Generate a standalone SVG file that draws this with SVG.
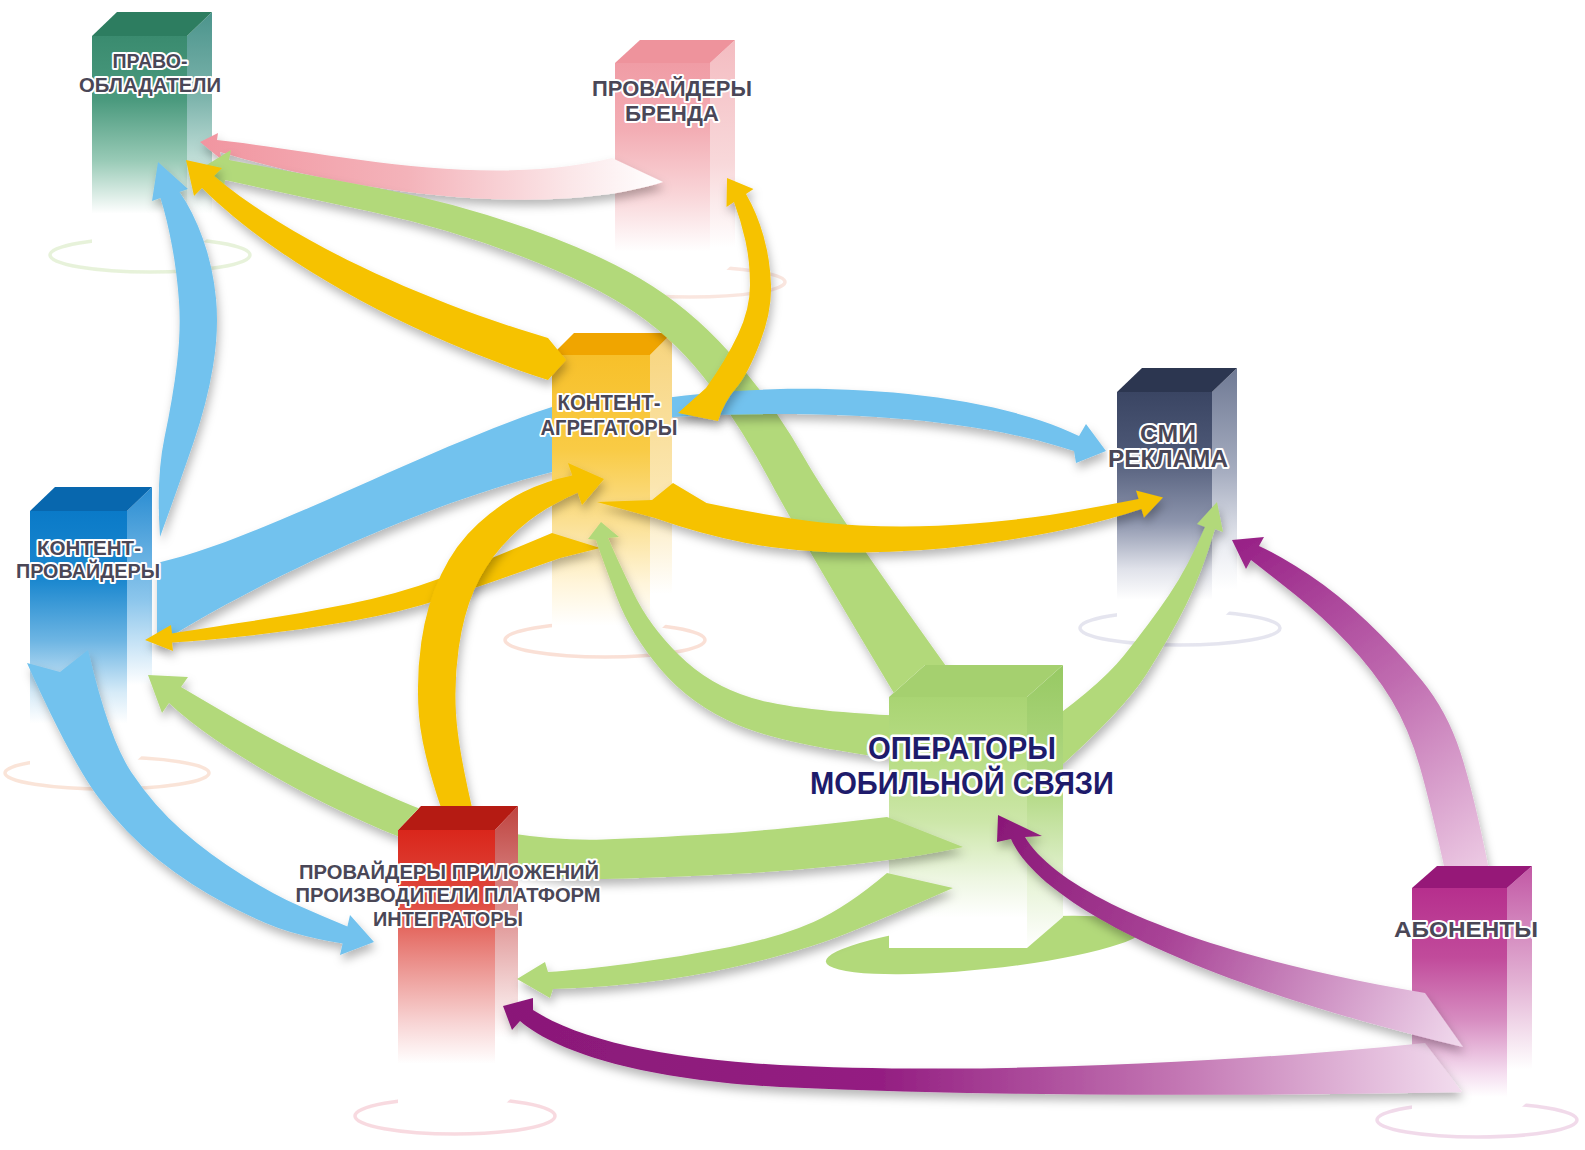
<svg xmlns="http://www.w3.org/2000/svg" width="1585" height="1150" viewBox="0 0 1585 1150">
<defs>
<style>
.lb{font-family:"Liberation Sans Narrow","Liberation Sans",Arial,sans-serif;font-weight:700;fill:#4a4757;stroke:#ffffff;stroke-width:4px;stroke-linejoin:round;paint-order:stroke;text-anchor:middle;font-size:21px}
.lbo{fill:#1e1b6b;font-size:31px;stroke-width:5px}
.ring{fill:none;stroke-width:3.5;opacity:.55}
.arr{filter:url(#sh)}
.g{fill:#b2d97a}
.y{fill:#f6c200}
.b{fill:#72c2ee}
</style>
<filter id="sh" x="-20%" y="-20%" width="140%" height="150%"><feDropShadow dx="2" dy="6" stdDeviation="5" flood-color="#000" flood-opacity="0.28"/></filter>
<linearGradient id="poF" x1="0" y1="0" x2="0" y2="1"><stop offset="0" stop-color="#3a8b6f"/><stop offset=".29" stop-color="#4b9a7e"/><stop offset=".56" stop-color="#98cab6"/><stop offset=".8" stop-color="#fff"/><stop offset="1" stop-color="#fff"/></linearGradient>
<linearGradient id="poS" x1="0" y1="0" x2="0" y2="1"><stop offset="0" stop-color="#4b948c"/><stop offset=".35" stop-color="#7db4ac"/><stop offset=".7" stop-color="#dcefe9"/><stop offset=".82" stop-color="#fff"/></linearGradient>
<linearGradient id="pbF" x1="0" y1="0" x2="0" y2="1"><stop offset="0" stop-color="#f09ca5"/><stop offset=".3" stop-color="#f3adb4"/><stop offset=".6" stop-color="#f9d6d9"/><stop offset=".85" stop-color="#fff"/></linearGradient>
<linearGradient id="pbS" x1="0" y1="0" x2="0" y2="1"><stop offset="0" stop-color="#f4bcc1"/><stop offset=".5" stop-color="#f8d8da"/><stop offset=".85" stop-color="#fff"/></linearGradient>
<linearGradient id="kaF" x1="0" y1="0" x2="0" y2="1"><stop offset="0" stop-color="#f7c02a"/><stop offset=".33" stop-color="#f9cb45"/><stop offset=".6" stop-color="#fbe197"/><stop offset=".8" stop-color="#fff5da"/><stop offset=".95" stop-color="#fff"/></linearGradient>
<linearGradient id="kaS" x1="0" y1="0" x2="0" y2="1"><stop offset="0" stop-color="#f7d47c"/><stop offset=".5" stop-color="#fbe6b0"/><stop offset=".85" stop-color="#fff"/></linearGradient>
<linearGradient id="smF" x1="0" y1="0" x2="0" y2="1"><stop offset="0" stop-color="#3a4563"/><stop offset=".25" stop-color="#4c5775"/><stop offset=".55" stop-color="#8d95ad"/><stop offset=".75" stop-color="#e0e2ea"/><stop offset=".88" stop-color="#fff"/></linearGradient>
<linearGradient id="smS" x1="0" y1="0" x2="0" y2="1"><stop offset="0" stop-color="#6f7994"/><stop offset=".4" stop-color="#a6adc0"/><stop offset=".7" stop-color="#eceef3"/><stop offset=".85" stop-color="#fff"/></linearGradient>
<linearGradient id="kpF" x1="0" y1="0" x2="0" y2="1"><stop offset="0" stop-color="#0a7ac8"/><stop offset=".27" stop-color="#1c88cf"/><stop offset=".5" stop-color="#6db5e3"/><stop offset=".7" stop-color="#d6ebf8"/><stop offset=".82" stop-color="#fff"/></linearGradient>
<linearGradient id="kpS" x1="0" y1="0" x2="0" y2="1"><stop offset="0" stop-color="#2a8dd2"/><stop offset=".4" stop-color="#8cc6ec"/><stop offset=".7" stop-color="#fff"/></linearGradient>
<linearGradient id="omF" x1="0" y1="0" x2="0" y2="1"><stop offset="0" stop-color="#a9d473"/><stop offset=".25" stop-color="#b8dd85"/><stop offset=".5" stop-color="#cde7aa"/><stop offset=".72" stop-color="#edf6e1"/><stop offset=".88" stop-color="#fff"/></linearGradient>
<linearGradient id="omS" x1="0" y1="0" x2="0" y2="1"><stop offset="0" stop-color="#97c963"/><stop offset=".45" stop-color="#b4da86"/><stop offset=".8" stop-color="#eaf5dc"/><stop offset="1" stop-color="#fff"/></linearGradient>
<linearGradient id="ppF" x1="0" y1="0" x2="0" y2="1"><stop offset="0" stop-color="#da261b"/><stop offset=".25" stop-color="#df4a3f"/><stop offset=".45" stop-color="#ea8b86"/><stop offset=".68" stop-color="#f8d5d5"/><stop offset=".82" stop-color="#fff"/></linearGradient>
<linearGradient id="ppS" x1="0" y1="0" x2="0" y2="1"><stop offset="0" stop-color="#bf4440"/><stop offset=".4" stop-color="#e3a0a0"/><stop offset=".75" stop-color="#fff"/></linearGradient>
<linearGradient id="abF" x1="0" y1="0" x2="0" y2="1"><stop offset="0" stop-color="#b62f8d"/><stop offset=".3" stop-color="#c14b9b"/><stop offset=".57" stop-color="#d78dc1"/><stop offset=".8" stop-color="#f5def0"/><stop offset=".9" stop-color="#fff"/></linearGradient>
<linearGradient id="abS" x1="0" y1="0" x2="0" y2="1"><stop offset="0" stop-color="#c258a5"/><stop offset=".45" stop-color="#e2b0d3"/><stop offset=".8" stop-color="#fff"/></linearGradient>
<linearGradient id="pinkG" gradientUnits="userSpaceOnUse" x1="200" y1="0" x2="660" y2="0"><stop offset="0" stop-color="#f195a0"/><stop offset=".45" stop-color="#f4b3ba"/><stop offset=".8" stop-color="#fbe6e8"/><stop offset="1" stop-color="#fff"/></linearGradient>
<linearGradient id="m1G" gradientUnits="userSpaceOnUse" x1="500" y1="0" x2="1460" y2="0"><stop offset="0" stop-color="#8a1878"/><stop offset=".4" stop-color="#941f82"/><stop offset=".7" stop-color="#c274b2"/><stop offset="1" stop-color="#f2dcee"/></linearGradient>
<linearGradient id="m2G" gradientUnits="userSpaceOnUse" x1="1000" y1="820" x2="1460" y2="1040"><stop offset="0" stop-color="#8a1878"/><stop offset=".4" stop-color="#a94497"/><stop offset="1" stop-color="#f0d8ec"/></linearGradient>
<linearGradient id="m3G" gradientUnits="userSpaceOnUse" x1="1240" y1="545" x2="1470" y2="875"><stop offset="0" stop-color="#982287"/><stop offset=".5" stop-color="#c06cb0"/><stop offset="1" stop-color="#ecc9e3"/></linearGradient>
<clipPath id="cKA"><path clip-rule="evenodd" d="M0,0H1585V1150H0Z M552,355 L574,333 L672,333 L672,640 L552,640 Z"/></clipPath>
<clipPath id="cOM"><path clip-rule="evenodd" d="M0,0H1585V1150H0Z M889,697 L925,665 L1063,665 L1063,917 L1027,948 L889,948 Z"/></clipPath>
<clipPath id="cPP"><path clip-rule="evenodd" d="M0,0H1585V1150H0Z M398,830 L421,806 L518,806 L518,1115 L398,1115 Z"/></clipPath>
<clipPath id="cAB"><path clip-rule="evenodd" d="M0,0H1585V1150H0Z M1412,888 L1437,866 L1532,866 L1532,1120 L1412,1120 Z"/></clipPath>
</defs>
<rect width="1585" height="1150" fill="#fff"/>

<g id="node-pravoobladateli">
<ellipse class="ring" cx="150" cy="255" rx="100" ry="17" stroke="#d4e8bc"/>
<rect x="92" y="36" width="95" height="222" fill="url(#poF)"/>
<polygon points="187,36 212,12 212,234 187,258" fill="url(#poS)"/>
<polygon points="92,36 117,12 212,12 187,36" fill="#2d7d60"/>
</g>
<g id="node-provaidery-brenda">
<ellipse class="ring" cx="690" cy="282" rx="95" ry="15" stroke="#f6d2c4"/>
<rect x="615" y="63" width="95" height="222" fill="url(#pbF)"/>
<polygon points="710,63 735,40 735,262 710,285" fill="url(#pbS)"/>
<polygon points="615,63 640,40 735,40 710,63" fill="#ee939c"/>
</g>
<g id="node-kontent-agregatory">
<ellipse class="ring" cx="605" cy="640" rx="100" ry="17" stroke="#f5c6b4"/>
<rect x="552" y="355" width="98" height="285" fill="url(#kaF)"/>
<polygon points="650,355 672,333 672,618 650,640" fill="url(#kaS)"/>
<polygon points="552,355 574,333 672,333 650,355" fill="#f0a500"/>
</g>
<g id="node-smi-reklama">
<ellipse class="ring" cx="1180" cy="628" rx="100" ry="17" stroke="#cfd0e2"/>
<rect x="1117" y="392" width="95" height="236" fill="url(#smF)"/>
<polygon points="1212,392 1237,368 1237,604 1212,628" fill="url(#smS)"/>
<polygon points="1117,392 1142,368 1237,368 1212,392" fill="#2c3650"/>
</g>
<g id="node-kontent-provaidery">
<ellipse class="ring" cx="107" cy="773" rx="102" ry="16" stroke="#f6cdb8"/>
<rect x="30" y="511" width="97" height="259" fill="url(#kpF)"/>
<polygon points="127,511 152,487 152,746 127,770" fill="url(#kpS)"/>
<polygon points="30,511 55,487 152,487 127,511" fill="#0867ae"/>
</g>
<g id="node-operatory">
<ellipse cx="985" cy="945" rx="160" ry="24" transform="rotate(-6 985 945)" fill="#b2d97a"/>
<rect x="889" y="697" width="138" height="251" fill="url(#omF)"/>
<polygon points="1027,697 1063,665 1063,917 1027,948" fill="url(#omS)"/>
<polygon points="889,697 925,665 1063,665 1027,697" fill="#a5d06f"/>
</g>
<g id="node-provaidery-prilozhenii">
<ellipse class="ring" cx="455" cy="1116" rx="100" ry="18" stroke="#f2bcc6"/>
<rect x="398" y="830" width="97" height="285" fill="url(#ppF)"/>
<polygon points="495,830 518,806 518,1091 495,1115" fill="url(#ppS)"/>
<polygon points="398,830 421,806 518,806 495,830" fill="#b51b13"/>
</g>
<g id="node-abonenty">
<ellipse class="ring" cx="1477" cy="1120" rx="100" ry="17" stroke="#e6bcd8"/>
<rect x="1412" y="888" width="95" height="232" fill="url(#abF)"/>
<polygon points="1507,888 1532,866 1532,1098 1507,1120" fill="url(#abS)"/>
<polygon points="1412,888 1437,866 1532,866 1507,888" fill="#961878"/>
</g>

<g id="connectors">
<path id="c-brand-pravo" class="arr" fill="url(#pinkG)" d="M217,140 C330,152 480,190 612,158 L663,182 C560,215 380,200 220,152 L222,160 L200,142 L218,133 Z"/>
<path id="c-oper-pravo" class="arr g" clip-path="url(#cOM)" d="M956,680 Q834,510 805,459 Q776,408 738,362.5 Q700,317 653,286.5 Q606,256 529.5,229 Q453,202 377.5,188 Q302,174 229,160 L231,150 L205,166 L224,191 L225,180 Q298,196 372.5,212 Q447,228 520.5,256 Q594,284 636.5,313.5 Q679,343 711.5,387.5 Q744,432 770,481 Q796,530 904,710 Z"/>
<path id="c-kp-pravo" class="arr b" d="M160,537 Q156,478 164.5,437.5 Q173,397 177,363.5 Q181,330 179,301.5 Q177,273 172,246 Q167,219 160.5,198 L152,201 L158,162 L188,189 L179.5,192 Q193,211 203,239 Q213,267 216,298.5 Q219,330 213,366.5 Q207,403 193.5,442.5 Q180,482 160,537 Z"/>
<path id="c-kp-prilozh" class="arr b" d="M88,650 Q109,739 131.5,772.5 Q154,806 182,830.5 Q210,855 243,875.5 Q276,896 299.5,906 Q323,916.5 347.4,926.4 L350,915 L374,942 L340,955 L342.6,943.6 Q317,939.5 290.5,932 Q264,924 227,904.5 Q190,885 158,859.5 Q126,834 98.5,797.5 Q71,761 27,663 L60,672 Z"/>
<path id="c-kp-smi" class="arr b" clip-path="url(#cKA)" d="M157,563 C260,540 420,450 552,407 L673,397 C800,380 980,388 1079,436 L1086,424 L1106,451 L1076,463 L1074,451 C960,413 800,410 673,417 L552,472 C420,505 260,580 157,645 Z"/>
<path id="c-oper-kp" class="arr g" clip-path="url(#cPP)" d="M963,847 L887,817 Q780,830 713.5,834 Q647,838 603.5,839.5 Q560,841 508,833 Q456,825 398.5,800 Q341,775 299.5,753.5 Q258,732 230.5,716 Q203,700 181,687 L188,677 L148,675 L162,713 L169,703 Q187,720 214.5,739 Q242,758 283.5,781.5 Q325,805 382.5,830 Q440,855 500,867.5 Q560,880 603.5,879 Q647,878 713.5,875 Q780,872 846.5,865 Q913,858 963,847 Z"/>
<path id="c-agr-kp" class="arr y" d="M600,548 L552,533 Q476,565 437,579.5 Q398,594 348.5,604 Q299,614 249,621.5 Q199.4,629 172,633.5 L171,625 L145,640 L173,651 L172,642.5 Q200.6,641 250.8,635.5 Q301,630 351.5,621 Q402,612 443,598.5 Q484,585 560,558 Z"/>
<path id="c-prilozh-agr" class="arr y" clip-path="url(#cPP)" d="M448,840 L444,816.5 Q422,753 419,716 Q416,679 421.3,642 Q426.6,605 441.1,574.5 Q455.6,544 478.3,523.5 Q501,503 523.2,492 Q545.4,481 572.3,475.5 L568,463 L604,479 L582,505 L577.7,492.6 Q554.6,503 536.8,515 Q519,527 501.7,546.5 Q484.4,566 473.9,590.5 Q463.4,615 458.7,648 Q454,681 456,714 Q458,747 472,807.5 L476,835 Z"/>
<path id="c-agr-pravo" class="arr y" d="M548,338 C420,300 290,240 214,176 L222,168 L186,160 L194,196 L202,188 C280,265 410,335 548,380 L566,360 Z"/>
<path id="c-agr-brand" class="arr y" d="M678,413 L706,388 Q726,360 738,334.5 Q750,309 750,285 Q750,261.5 745.5,241 Q741,221 734,202 L726.5,207 L727,178 L753.5,189 L746,194 Q757,213 763.5,236 Q770,258.5 771,285 Q772,311 760,342.5 Q748,374 736,388 Q724,402 718,421 Z"/>
<path id="c-agr-smi" class="arr y" d="M673,483 L706.5,503 Q801.5,523 860,525.5 Q919,528 973.5,523.5 Q1028,519 1068,512 Q1108,505 1138.6,499 L1136,490.5 L1163,497.5 L1144,517.5 L1141.4,509 Q1112,519 1072,528 Q1032,537 976.5,544.5 Q921,552 859.75,552.5 Q798.5,553 746,543 Q700,534 655,518 L597,502 L652,500 Z"/>
<path id="c-oper-agr" class="arr g" clip-path="url(#cOM)" d="M906,716 Q795,711 752,698 Q709,685 679,655 Q649,625.5 633,592 Q617,559 608,538 L619,537 L601,522 L588,539 L596,540 Q603,561 617,597.75 Q631,634.5 661,669.75 Q691,705 738,725 Q785,745 904,760 Z"/>
<path id="c-oper-smi" class="arr g" clip-path="url(#cOM)" d="M1027,737 Q1097,689 1123.5,656 Q1150,623 1169,595 Q1188,567 1205,527 L1197,524 L1217,502 L1223,532 L1215,529 Q1202,573 1186,605 Q1170,637 1146.5,674 Q1123,711 1053,773 Z"/>
<path id="c-oper-prilozh" class="arr g" d="M953,888 L887,873 Q847,907 813.5,922 Q780,937 730,947 Q680,957 630,963.5 Q580,970 548,972 L545,962 L517,979 L550,998 L553,989 Q613,987 663,980 Q713,973 763,960 Q813,947 846.5,933.5 Q880,920 953,888 Z"/>
<path id="c-abon-prilozh" class="arr" fill="url(#m1G)" d="M533,1010 C580,1040 660,1058 780,1065 C950,1074 1200,1066 1425,1043 L1462,1092 C1250,1096 1000,1097 780,1087 C650,1080 560,1055 520,1021 L512,1030 L503,1006 L533,998 Z"/>
<path id="c-abon-oper" class="arr" fill="url(#m2G)" d="M1025,837 C1060,895 1200,955 1425,993 L1463,1047 C1200,985 1040,905 1011,839 L997,842 L998,815 L1042,836 Z"/>
<path id="c-abon-smi" class="arr" fill="url(#m3G)" clip-path="url(#cAB)" d="M1447,880 Q1431,806 1420,767.5 Q1409,729 1391.5,700 Q1374,671 1348,643.5 Q1322,616 1295.5,595 Q1269,574 1251,560 L1246,569 L1232,540 L1264,537 L1259,546 Q1281,556 1309.5,575 Q1338,594 1367,621.5 Q1396,649 1421.5,680 Q1447,711 1460.5,752.5 Q1474,794 1489,870 Z"/>
</g>

<g id="labels">
<text id="label-pravoobladateli" class="lb"><tspan x="150" y="68" textLength="75" lengthAdjust="spacingAndGlyphs">ПРАВО-</tspan><tspan x="150" y="92" textLength="142" lengthAdjust="spacingAndGlyphs">ОБЛАДАТЕЛИ</tspan></text>
<text id="label-provaidery-brenda" class="lb" style="font-size:22px"><tspan x="672" y="96" textLength="160" lengthAdjust="spacingAndGlyphs">ПРОВАЙДЕРЫ</tspan><tspan x="672" y="121" textLength="94" lengthAdjust="spacingAndGlyphs">БРЕНДА</tspan></text>
<text id="label-kontent-agregatory" class="lb" style="font-size:22px"><tspan x="609" y="410" textLength="103" lengthAdjust="spacingAndGlyphs">КОНТЕНТ-</tspan><tspan x="609" y="435" textLength="137" lengthAdjust="spacingAndGlyphs">АГРЕГАТОРЫ</tspan></text>
<text id="label-smi-reklama" class="lb" style="font-size:24px"><tspan x="1168" y="442" textLength="56" lengthAdjust="spacingAndGlyphs">СМИ</tspan><tspan x="1168" y="467" textLength="120" lengthAdjust="spacingAndGlyphs">РЕКЛАМА</tspan></text>
<text id="label-kontent-provaidery" class="lb"><tspan x="89" y="555" textLength="104" lengthAdjust="spacingAndGlyphs">КОНТЕНТ-</tspan><tspan x="88" y="578" textLength="144" lengthAdjust="spacingAndGlyphs">ПРОВАЙДЕРЫ</tspan></text>
<text id="label-operatory" class="lb lbo"><tspan x="962" y="759" textLength="188" lengthAdjust="spacingAndGlyphs">ОПЕРАТОРЫ</tspan><tspan x="962" y="794" textLength="304" lengthAdjust="spacingAndGlyphs">МОБИЛЬНОЙ СВЯЗИ</tspan></text>
<text id="label-provaidery-prilozhenii" class="lb"><tspan x="449" y="879" textLength="300" lengthAdjust="spacingAndGlyphs">ПРОВАЙДЕРЫ ПРИЛОЖЕНИЙ</tspan><tspan x="448" y="902" textLength="305" lengthAdjust="spacingAndGlyphs">ПРОИЗВОДИТЕЛИ ПЛАТФОРМ</tspan><tspan x="448" y="926" textLength="150" lengthAdjust="spacingAndGlyphs">ИНТЕГРАТОРЫ</tspan></text>
<text id="label-abonenty" class="lb" style="font-size:22px"><tspan x="1466" y="937" textLength="144" lengthAdjust="spacingAndGlyphs">АБОНЕНТЫ</tspan></text>
</g>
</svg>
